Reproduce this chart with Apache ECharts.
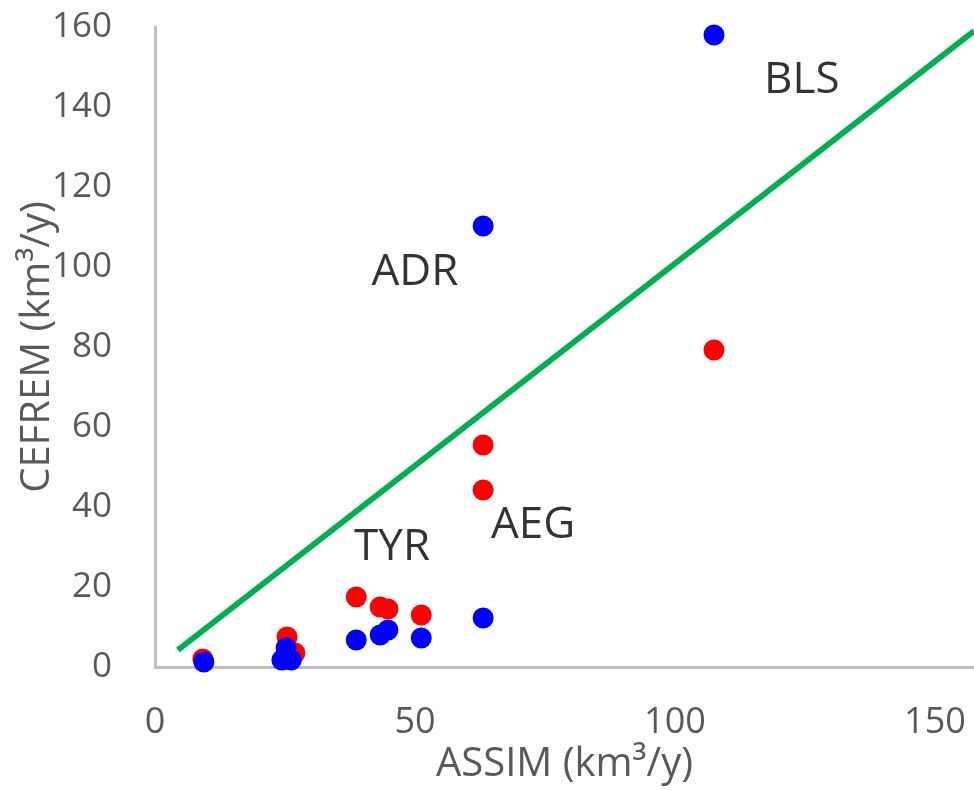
<!DOCTYPE html>
<html>
<head>
    <meta charset="UTF-8">
    <title>CEFREM vs ASSIM</title>
    <script type="text/javascript" src="https://cdn.jsdelivr.net/npm/echarts@6/dist/echarts.min.js"></script>
    <style>
        html, body { margin: 0; padding: 0; background: #fff; }
        #main { width: 974px; height: 790px; }
    </style>
</head>
<body>
    <div id="main"></div>
    <script type="text/javascript">
        // red points (ASSIM, CEFREM)
        var redX = [107.5, 63.1, 63.1, 51.2, 44.8, 43.3, 38.7, 25.4, 26.9, 9.2];
        var redY = [79.25, 55.5, 44.25, 13, 14.5, 15, 17.5, 7.5, 3.5, 2.0];
        // blue points
        var blueX = [107.5, 63.1, 63.1, 51.2, 44.8, 43.3, 38.7, 25.2, 24.4, 26.2, 9.4];
        var blueY = [158, 110.25, 12.25, 7.25, 9.25, 8.0, 6.75, 4.75, 1.75, 1.75, 1.25];
        // 1:1 line
        var lineX = [4.4, 157.5];
        var lineY = [4.25, 159];
        // region labels
        var regionNames = ['BLS', 'ADR', 'TYR', 'AEG'];
        var regionX = [124.4, 50, 45.6, 72.7];
        var regionY = [146.75, 98.75, 30, 35.5];

        var xTicks = [0, 50, 100, 150];
        var yTicks = [0, 20, 40, 60, 80, 100, 120, 140, 160];

        function pairs(xs, ys) {
            return xs.map(function (x, i) { return [x, ys[i]]; });
        }

        var chart = echarts.init(document.getElementById('main'));
        var font = '"Open Sans", sans-serif';

        chart.setOption({
            animation: false,
            grid: { left: 155, right: 0, top: 27, bottom: 123, outerBoundsMode: 'none' },
            xAxis: {
                type: 'value',
                min: 0,
                max: 157.5,
                interval: 50,
                splitLine: { show: false },
                axisTick: { show: false },
                axisLine: { show: true, lineStyle: { color: '#BFBFBF', width: 3 } },
                axisLabel: {
                    margin: 38,
                    fontSize: 36,
                    fontFamily: font,
                    color: '#595959',
                    showMaxLabel: false,
                    formatter: function (v) { return xTicks.indexOf(v) >= 0 ? v : ''; }
                },
                name: 'ASSIM (km³/y)',
                nameLocation: 'middle',
                nameGap: 78,
                nameMoveOverlap: false,
                nameTextStyle: { fontSize: 40, fontFamily: font, color: '#595959' }
            },
            yAxis: {
                type: 'value',
                min: 0,
                max: 160,
                interval: 20,
                splitLine: { show: false },
                axisTick: { show: false },
                axisLine: { show: true, lineStyle: { color: '#BFBFBF', width: 3 } },
                axisLabel: {
                    margin: 43,
                    fontSize: 35,
                    fontFamily: font,
                    color: '#595959',
                    formatter: function (v) { return yTicks.indexOf(v) >= 0 ? v : ''; }
                },
                name: 'CEFREM (km³/y)',
                nameLocation: 'middle',
                nameRotate: 90,
                nameGap: 97,
                nameMoveOverlap: false,
                nameTextStyle: { fontSize: 40, fontFamily: font, color: '#595959' }
            },
            series: [
                {
                    type: 'line',
                    data: pairs(lineX, lineY),
                    symbol: 'none',
                    clip: true,
                    lineStyle: { color: '#00B050', width: 6 },
                    z: 1
                },
                {
                    type: 'scatter',
                    data: pairs(redX, redY),
                    symbolSize: 21,
                    itemStyle: { color: '#FF0000', opacity: 1 },
                    z: 2
                },
                {
                    type: 'scatter',
                    data: pairs(blueX, blueY),
                    symbolSize: 21,
                    itemStyle: { color: '#0000FF', opacity: 1 },
                    z: 3
                },
                {
                    type: 'scatter',
                    data: regionNames.map(function (n, i) {
                        return { name: n, value: [regionX[i], regionY[i]] };
                    }),
                    symbolSize: 0,
                    silent: true,
                    label: {
                        show: true,
                        position: 'inside',
                        formatter: '{b}',
                        fontSize: 44,
                        fontFamily: font,
                        color: '#000000'
                    },
                    z: 4
                }
            ]
        });
    </script>
</body>
</html>
